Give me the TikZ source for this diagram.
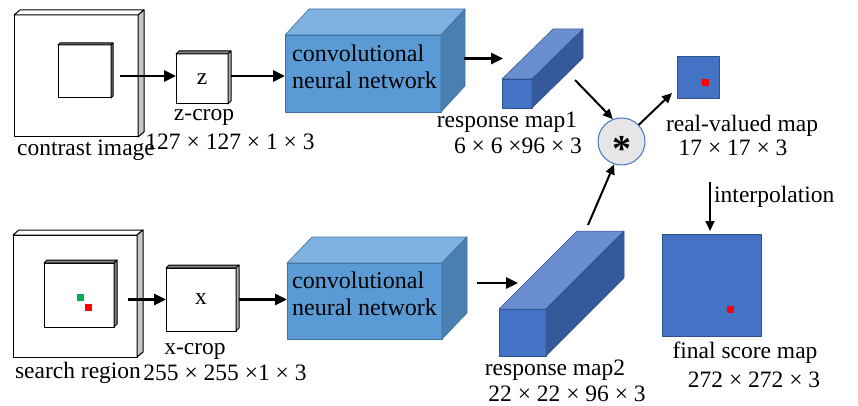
\documentclass[tikz,border=0pt]{standalone}
\usepackage{fontspec}
\setmainfont{Liberation Serif}
\usetikzlibrary{calc,arrows.meta}

\definecolor{cnnfront}{HTML}{5B9BD5}
\definecolor{cnntop}{HTML}{7FB1E0}
\definecolor{cnnside}{HTML}{4A7FB2}
\definecolor{cnnedge}{HTML}{41719C}
\definecolor{mapfront}{HTML}{4472C4}
\definecolor{maptop}{HTML}{6B8ED0}
\definecolor{mapside}{HTML}{36599C}
\definecolor{mapedge}{HTML}{2F528F}
\definecolor{convfill}{HTML}{E7E6E6}
\definecolor{dotgreen}{HTML}{00B050}

% top and right faces of a box drawn as a node
\newcommand{\blockfaces}[6]{%
  \filldraw[fill=#4,#6] (#1.north west) -- ++(#2,#3) -- ([shift={(#2,#3)}]#1.north east) -- (#1.north east) -- cycle;
  \filldraw[fill=#5,#6] (#1.north east) -- ++(#2,#3) -- ([shift={(#2,#3)}]#1.south east) -- (#1.south east) -- cycle;
}

\tikzset{
  wbox/.style={draw=black, fill=white, line width=1pt, inner sep=0pt, outer sep=0pt},
  cnnbox/.style={draw=cnnedge, fill=cnnfront, line width=0.6pt, inner sep=0pt, outer sep=0pt},
  mapbox/.style={draw=mapedge, fill=mapfront, line width=0.5pt, inner sep=0pt, outer sep=0pt},
  dot/.style={fill=#1, minimum size=7pt, inner sep=0pt},
  lab/.style={font=\fontsize{23.5}{27}\selectfont, inner sep=0pt},
  arr/.style={-{Triangle[length=12pt,width=11pt]}, line width=2.8pt},
  darr/.style={-{Triangle[length=10pt,width=9pt]}, line width=2pt},
}

\begin{document}
\begin{tikzpicture}[x=1pt,y=-1pt,line join=round]
\useasboundingbox (0,0) rectangle (858,406);

% upper branch
\node[wbox, minimum width=124pt, minimum height=122pt] (cimg) at (76,76) {};
\blockfaces{cimg}{6}{-5}{white}{gray!45}{draw=black,line width=1pt}
\node[wbox, minimum width=53pt, minimum height=53pt] (cin) at (84.5,71.5) {};
\blockfaces{cin}{2}{-2}{gray}{gray}{draw=black,line width=1pt}
\node[wbox, minimum width=52pt, minimum height=50pt, lab] (zc) at (202,79) {z};
\blockfaces{zc}{3}{-3}{gray}{gray!60}{draw=black,line width=1pt}

\node[cnnbox, minimum width=156pt, minimum height=77pt] (cnn1) at (363,73.5) {};
\blockfaces{cnn1}{24}{-26}{cnntop}{cnnside}{draw=cnnedge,line width=0.6pt}
\node[lab, align=left, anchor=west, font=\fontsize{24}{27}\selectfont] (t1) at ($(cnn1.west)+(7,-7)$) {convolutional\\neural network};

\node[mapbox, minimum width=30pt, minimum height=29pt] (rm1) at (517,93.5) {};
\blockfaces{rm1}{51}{-50}{maptop}{mapside}{draw=mapedge,line width=0.5pt}

% lower branch
\node[wbox, minimum width=124pt, minimum height=122pt] (sreg) at (75,296) {};
\blockfaces{sreg}{6}{-5}{white}{gray!45}{draw=black,line width=1pt}
\node[wbox, minimum width=70pt, minimum height=64pt] (sin) at (79,295) {};
\blockfaces{sin}{3}{-3}{gray}{gray}{draw=black,line width=1pt}
\node[dot=dotgreen] (gdot) at (80,297) {};
\node[dot=red] (rdot) at (88,307) {};
\node[wbox, minimum width=70pt, minimum height=63pt, lab] (xc) at (201,299.5) {x};
\blockfaces{xc}{3}{-3}{gray}{gray!60}{draw=black,line width=1pt}

\node[cnnbox, minimum width=155pt, minimum height=76pt] (cnn2) at (364.5,301) {};
\blockfaces{cnn2}{25}{-26}{cnntop}{cnnside}{draw=cnnedge,line width=0.6pt}
\node[lab, align=left, anchor=west, font=\fontsize{24}{27}\selectfont] (t2) at ($(cnn2.west)+(5,-7)$) {convolutional\\neural network};

\node[mapbox, minimum width=47pt, minimum height=47pt] (rm2) at (522.5,332.5) {};
\blockfaces{rm2}{78}{-78}{maptop}{mapside}{draw=mapedge,line width=0.5pt}

% correlation and outputs
\node[circle, draw=mapfront, fill=convfill, line width=1pt, minimum size=47pt, inner sep=0pt] (conv) at (621.5,141.5) {};
\node[inner sep=0pt, font=\fontsize{38}{38}\selectfont\bfseries] (ast) at ($(conv)+(0,7)$) {*};
\node[mapbox, minimum width=42pt, minimum height=42pt] (rv) at (698,77) {};
\node[dot=red] (rvdot) at (705,83) {};
\node[mapbox, minimum width=99pt, minimum height=102pt] (fin) at (711.5,285) {};
\node[dot=red] (findot) at (730,309) {};

% labels
\node[lab] (l1) at (86,150) {contrast image};
\node[lab] (l2) at (204,117) {z-crop};
\node[lab] (l3) at (230,142) {127 × 127 × 1 × 3};
\node[lab] (l4) at (507,122) {response map1};
\node[lab] (l5) at (518,146) {6 × 6 ×96 × 3};
\node[lab] (l6) at (742,126) {real-valued map};
\node[lab] (l7) at (733,148) {17 × 17 × 3};
\node[lab, anchor=west] (l8) at (714,197) {interpolation};
\node[lab] (l9) at (745,353) {final score map};
\node[lab] (l10) at (754,380) {272 × 272 × 3};
\node[lab] (l11) at (195,351) {x-crop};
\node[lab] (l12) at (78,373) {search region};
\node[lab] (l13) at (225,373) {255 × 255 ×1 × 3};
\node[lab] (l14) at (555,370) {response map2};
\node[lab] (l15) at (567,394) {22 × 22 × 96 × 3};

% arrows
\draw[arr] ($(cin.east |- zc.west)+(9,-3)$) -- ($(zc.west)+(0,-3)$);
\draw[arr] ($(zc.east)+(3,-3)$) -- ($(cnn1.west |- zc.east)+(0,-3)$);
\draw[arr] ($(cnn1.east)+(23,-15)$) -- ($(rm1.west)+(1,-35)$);
\draw[darr] ($(rm1.south east)+(43,-28)$) -- (conv.111);
\draw[darr] (conv.44) -- ($(rv.south west)+(-5,-5)$);
\draw[darr] ($(rm2.north west)+(89,-84)$) -- (conv.252);
\draw[darr] ($(fin.north)+(-1.5,-52)$) -- ($(fin.north)+(-1.5,-3)$);
\draw[arr] ($(sin.east |- xc.west)+(14,0)$) -- (xc.west);
\draw[arr] ($(xc.east)+(3,0)$) -- (cnn2.west |- xc.east);
\draw[arr] ($(cnn2.east)+(35,-18)$) -- ($(rm2.north west)+(19,-26)$);
\end{tikzpicture}
\end{document}
